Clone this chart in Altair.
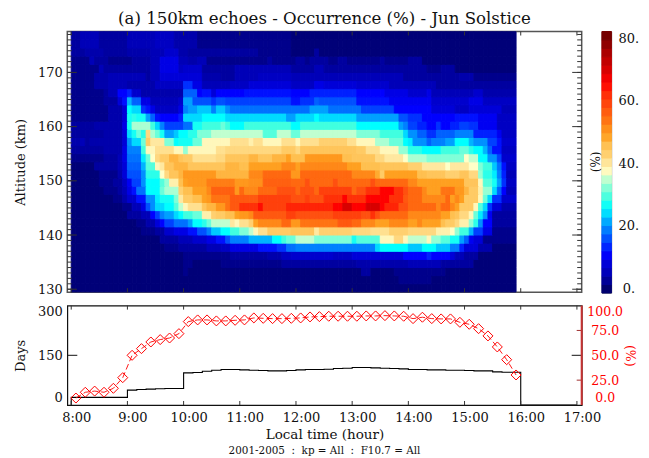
import altair as alt
import pandas as pd

FONT = "DejaVu Serif"

# Occurrence map: each row is a list of (end column, occurrence %) runs; 5-minute columns, 1.5 km rows.
r00 = [(95,1)]
r01 = [(70,1),(77,2),(95,1)]
r02 = [(24,1),(25,2),(62,1),(64,3),(69,1),(80,2),(95,1)]
r03 = [(24,1),(26,2),(32,1),(45,2),(47,3),(61,3),(72,4),(79,5),(86,3),(95,1)]
r04 = [(24,1),(34,2),(42,3),(45,4),(47,6),(56,7),(60,6),(71,8),(76,11),(77,13),(81,11),(82,8),(84,5),(87,3),(95,1)]
r05 = [(20,1),(23,2),(29,3),(32,5),(34,6),(40,9),(44,12),(46,14),(48,18),(65,19),(66,24),(72,26),(75,23),(78,26),(81,23),(83,19),(84,13),(87,8),(90,4),(95,1)]
r06 = [(19,1),(23,3),(26,5),(29,7),(31,9),(33,12),(34,16),(38,19),(43,22),(45,26),(46,29),(48,31),(52,35),(60,32),(61,27),(66,30),(69,38),(71,42),(72,38),(76,35),(77,38),(79,33),(81,30),(83,27),(84,21),(85,17),(86,10),(88,8),(95,2)]
r07 = [(15,1),(18,2),(20,3),(22,7),(25,9),(27,12),(29,16),(30,19),(32,23),(34,26),(36,29),(38,32),(39,35),(40,38),(42,41),(47,44),(52,45),(53,40),(60,43),(64,42),(68,41),(72,43),(78,42),(81,39),(82,37),(83,33),(85,29),(86,22),(88,15),(90,9),(95,2)]
r08 = [(14,1),(16,2),(18,4),(19,8),(20,11),(22,15),(25,18),(26,21),(28,26),(29,28),(30,31),(34,35),(35,40),(36,38),(38,41),(39,43),(40,49),(45,52),(47,55),(49,50),(57,54),(60,57),(62,55),(65,52),(68,49),(72,52),(74,49),(75,52),(79,49),(80,46),(82,44),(83,42),(85,39),(86,33),(87,28),(88,20),(90,11),(95,3)]
r09 = [(12,1),(15,3),(17,5),(18,11),(19,15),(20,19),(22,21),(23,24),(24,26),(26,29),(28,31),(30,39),(31,43),(33,44),(35,46),(36,49),(38,50),(39,52),(46,57),(48,60),(56,58),(62,60),(64,58),(65,62),(66,58),(72,55),(79,52),(81,49),(82,46),(83,45),(85,42),(86,38),(87,31),(88,25),(89,20),(90,10),(95,3)]
r10 = [(11,1),(13,2),(15,5),(16,9),(17,16),(18,20),(20,24),(22,26),(23,30),(24,35),(25,38),(28,41),(29,45),(31,47),(33,50),(34,54),(36,57),(40,62),(41,65),(46,60),(56,63),(58,66),(60,70),(63,66),(66,70),(67,66),(70,63),(72,58),(78,55),(79,52),(81,55),(82,52),(83,49),(86,44),(87,38),(88,30),(89,24),(90,14),(92,8),(95,4)]
r11 = [(9,1),(11,2),(12,4),(14,7),(16,12),(18,20),(19,25),(22,27),(23,32),(24,40),(26,44),(28,46),(29,49),(30,50),(34,54),(40,57),(47,60),(50,58),(51,60),(54,58),(58,62),(59,66),(63,62),(68,66),(71,62),(72,57),(75,55),(80,52),(81,55),(82,49),(83,52),(84,49),(87,44),(88,38),(89,31),(90,24),(92,14),(95,7)]
r12 = [(7,1),(10,2),(11,3),(12,5),(13,9),(14,12),(16,18),(19,26),(20,31),(23,34),(24,43),(26,46),(29,49),(30,52),(35,56),(36,50),(37,55),(40,52),(44,55),(48,58),(49,55),(52,58),(53,55),(60,60),(61,55),(63,58),(66,62),(69,66),(71,62),(72,58),(75,55),(76,52),(79,49),(82,54),(84,50),(85,47),(87,44),(88,39),(90,33),(91,24),(92,17),(93,11),(95,5)]
r13 = [(6,1),(9,2),(11,3),(12,6),(13,10),(15,15),(16,20),(19,26),(20,30),(21,33),(23,39),(24,46),(25,49),(29,50),(35,53),(38,50),(41,51),(47,56),(50,55),(51,58),(56,55),(57,58),(64,55),(65,58),(72,55),(74,52),(84,49),(87,45),(88,38),(90,30),(91,27),(92,21),(93,14),(95,6)]
r14 = [(6,1),(10,2),(11,4),(12,8),(15,16),(16,20),(19,28),(20,37),(21,42),(23,45),(24,47),(31,50),(38,47),(41,52),(47,55),(49,50),(60,55),(65,52),(66,48),(67,44),(74,49),(76,46),(80,45),(83,43),(85,45),(87,42),(88,33),(90,28),(91,25),(92,19),(93,13),(95,5)]
r15 = [(5,1),(10,3),(11,5),(12,8),(15,17),(16,22),(18,30),(19,38),(20,40),(22,45),(25,47),(33,45),(36,47),(38,46),(45,49),(48,52),(49,49),(59,52),(62,49),(66,46),(72,45),(75,43),(80,40),(81,37),(85,40),(87,37),(88,32),(90,29),(91,23),(92,18),(93,12),(95,6)]
r16 = [(7,2),(10,3),(11,5),(12,9),(15,18),(16,25),(17,31),(18,37),(19,42),(21,44),(23,47),(24,45),(26,44),(31,41),(33,42),(38,45),(40,47),(43,45),(46,47),(47,49),(50,46),(58,50),(60,46),(65,45),(67,42),(71,40),(72,37),(76,34),(84,32),(85,37),(87,35),(89,26),(91,20),(92,15),(95,7)]
r17 = [(7,3),(11,4),(12,9),(15,19),(16,29),(18,38),(22,41),(24,38),(25,33),(31,38),(33,41),(45,42),(48,44),(49,42),(61,45),(63,44),(66,41),(70,38),(72,33),(75,28),(79,26),(83,29),(85,31),(86,28),(88,26),(89,22),(90,17),(92,12),(95,6)]
r18 = [(2,4),(3,5),(4,3),(11,4),(12,8),(13,20),(15,24),(16,31),(17,44),(20,40),(22,32),(23,26),(26,27),(28,31),(34,38),(38,41),(39,39),(41,41),(45,38),(48,41),(49,38),(53,41),(59,43),(61,41),(65,38),(68,34),(71,31),(72,26),(73,25),(76,20),(77,17),(80,19),(82,21),(85,26),(86,22),(89,20),(91,15),(92,12),(95,7)]
r19 = [(7,3),(11,4),(12,8),(13,24),(14,27),(15,31),(16,28),(17,42),(18,34),(19,31),(20,27),(22,21),(23,23),(25,26),(27,28),(30,32),(41,35),(44,30),(47,35),(49,31),(61,35),(66,32),(71,29),(72,24),(74,20),(76,17),(78,14),(82,17),(86,19),(91,13),(92,10),(95,6)]
r20 = [(5,3),(11,4),(12,9),(13,27),(17,34),(18,29),(19,24),(20,19),(24,15),(26,18),(28,27),(32,29),(33,31),(34,29),(37,26),(47,29),(49,26),(61,29),(70,26),(71,21),(72,19),(74,15),(76,13),(78,11),(79,14),(81,11),(83,13),(85,15),(87,14),(91,10),(95,6)]
r21 = [(8,2),(11,4),(12,8),(13,27),(14,28),(16,27),(17,21),(18,17),(19,12),(23,11),(24,13),(28,24),(33,26),(46,24),(48,21),(52,24),(53,26),(61,24),(70,21),(72,16),(75,14),(82,11),(87,12),(91,10),(95,6)]
r22 = [(8,2),(11,4),(12,8),(13,26),(15,24),(16,14),(17,12),(18,9),(23,6),(24,9),(25,19),(27,21),(30,23),(31,19),(33,23),(34,20),(51,18),(55,21),(62,18),(69,15),(77,11),(82,8),(85,6),(92,8),(95,5)]
r23 = [(7,2),(10,3),(11,8),(12,12),(13,22),(15,17),(17,9),(23,5),(24,7),(26,21),(30,16),(31,14),(33,16),(47,15),(49,12),(52,14),(53,17),(61,16),(68,12),(77,10),(85,7),(88,9),(95,6)]
r24 = [(7,2),(8,3),(10,5),(12,11),(13,13),(15,7),(24,4),(27,17),(28,11),(30,12),(31,8),(37,11),(47,12),(51,11),(61,13),(67,11),(72,9),(76,7),(77,9),(86,5),(88,7),(95,4)]
r25 = [(5,2),(8,4),(12,5),(18,4),(24,6),(26,14),(28,9),(34,5),(38,6),(47,8),(52,6),(54,9),(61,8),(68,7),(78,5),(95,3)]
r26 = [(5,2),(8,4),(16,5),(17,3),(19,5),(28,8),(32,4),(35,3),(40,5),(47,6),(71,5),(83,3),(86,4),(95,2)]
r27 = [(6,2),(7,5),(17,3),(19,5),(23,9),(24,6),(28,7),(35,3),(47,5),(52,3),(54,5),(76,3),(79,2),(82,3),(95,1)]
r28 = [(4,2),(5,5),(8,3),(13,2),(17,3),(19,5),(23,9),(25,5),(27,4),(29,5),(42,2),(43,3),(48,2),(50,3),(51,2),(55,3),(57,2),(59,3),(66,2),(67,3),(72,2),(75,3),(95,1)]
r29 = [(3,3),(7,4),(12,3),(17,4),(20,5),(23,7),(25,4),(40,3),(47,2),(52,1),(53,3),(95,1)]
r30 = [(2,3),(6,5),(12,3),(18,5),(22,6),(27,4),(47,2),(95,1)]
r31 = [(2,3),(6,5),(12,3),(18,5),(22,6),(27,4),(47,2),(95,1)]
map_rows = [r00,r01,r02,r03,r04,r05,r06,r07,r08,r09,r10,r11,r12,r13,r14,r15,
            r16,r17,r18,r19,r20,r21,r22,r23,r24,r25,r26,r27,r28,r29,r30,r31]

# Colour table
stop_values = [0,1,3,5,8,11,15,17,19,21,23,26,29,32,35,37,40,43,46,49,52,55,58,62,66,70,75,83]
stop_colors = ["#000070","#000078","#0000a0","#0000b8","#0000d8","#0000ff","#0040ff","#0060ff","#0080ff","#00a0ff","#00c8ff","#00ffff",
               "#40ffe0","#80ffd8","#c0ffd0","#ffffc8","#ffe8a0","#ffd070","#ffc050","#ffa020","#ff8818","#ff6810","#ff5010","#ff3008","#ff0000","#d80000","#b00000","#600000"]

# Lower panel
hour_ticks = [8,9,10,11,12,13,14,15,16,17]
days_hours = [8,8,8.1667,8.3333,8.5,8.6667,8.8333,9,9.1667,9.3333,9.5,9.6667,9.8333,10,10.1667,10.3333,10.5,10.6667,10.8333,11,11.1667,11.3333,11.5,11.6667,11.8333,12,12.1667,12.3333,12.5,12.6667,12.8333,13,13.1667,13.3333,13.5,13.6667,13.8333,14,14.1667,14.3333,14.5,14.6667,14.8333,15,15.1667,15.3333,15.5,15.6667,15.8333,16,16,17]
days_values = [0,23,23,23,23,23,23,45,47,48,49,50,50,97,98,102,105,107,107,106,105,104,103,103,104,106,107,107,108,110,111,113,113,112,111,110,109,107,107,106,106,105,105,104,103,103,100,99,99,99,0,0]
pct_values = [7,12.8,14,12.8,16.8,27.5,50,56.7,63.4,65.8,67.4,71.8,83.9,85.6,85.6,84.6,84.6,85.2,85.6,87.6,87.2,86.9,86.9,87.2,87.6,88.6,88.9,
              89.3,89.3,89.3,89.3,89.6,89.6,89.9,89.6,89.3,86.9,88.3,86.9,86.6,86.6,83.2,81.2,76.8,69.5,58.4,45.6,30.2]
pct_minutes = [5+10*i for i in range(len(pct_values))]

records = []
for r, runs in enumerate(map_rows):
    start = 0
    for end, v in runs:
        for c in range(start, end):
            records.append({"t0": 8+c/12, "t1": 8+(c+1)/12, "a0": 129.5+1.5*r, "a1": 131+1.5*r, "v": v})
        start = end
map_df = pd.DataFrame(records)

W, H = 514.4, 260.7
XDOM = [7.93, 17.085]
YDOM = [129.45, 177.55]
xs = alt.Scale(domain=XDOM, nice=False, zero=False)
ys = alt.Scale(domain=YDOM, nice=False, zero=False)
cs = alt.Scale(domain=stop_values, range=stop_colors, interpolate="rgb")
FRAME = "#555555"

Y_AXIS = alt.Axis(values=[130,140,150,160,170], title="Altitude (km)", ticks=False, domain=False, grid=False,
        labelFont=FONT, labelFontSize=13, labelColor="#111", labelPadding=5, titleFont=FONT, titleFontSize=13, titleFontWeight="normal", titleColor="#111", titlePadding=10)
hm = alt.Chart(map_df).mark_rect(strokeWidth=1).encode(
    x=alt.X("t0:Q", scale=xs, axis=None), x2="t1:Q",
    y=alt.Y("a0:Q", scale=ys, axis=Y_AXIS),
    y2="a1:Q",
    color=alt.Color("v:Q", scale=cs, legend=None),
    stroke=alt.Stroke("v:Q", scale=cs, legend=None),
)

ydf = pd.DataFrame({"a": list(range(130, 178))})
ymaj = pd.DataFrame({"a": [130,140,150,160,170]})
hdf = pd.DataFrame({"h": hour_ticks})
def yrule(df, x0, x1):
    return alt.Chart(df).mark_rule(color="#333", strokeWidth=1).encode(
        y=alt.Y("a:Q", scale=ys, axis=Y_AXIS), x=alt.value(x0), x2=alt.value(x1))
def xrule(df, y0, y1, axis=None):
    return alt.Chart(df).mark_rule(color="#333", strokeWidth=1).encode(
        x=alt.X("h:Q", scale=xs, axis=axis), y=alt.value(y0), y2=alt.value(y1))

bar_label = alt.Chart(pd.DataFrame({"t": ["(%)"]})).mark_text(font=FONT, fontSize=12, color="#111", angle=270, align="center", baseline="middle").encode(
    text="t:N", x=alt.value(W+14), y=alt.value(H/2))

top = alt.layer(hm, yrule(ydf,0,4.5), yrule(ydf,W-4.5,W), yrule(ymaj,0,9.5), yrule(ymaj,W-9.5,W),
                xrule(hdf,0,4), xrule(hdf,H-4,H), bar_label).properties(
    width=W, height=H,
    view=alt.ViewConfig(stroke=FRAME, strokeWidth=1.5),
    title=alt.TitleParams("(a) 150km echoes - Occurrence (%) - Jun Solstice", font=FONT, fontSize=16.6, fontWeight="normal", color="#111", anchor="middle", offset=3.7),
)

# Colour bar
band_step = 83.7/31
bar_df = pd.DataFrame({"b0": [-1.5+band_step*i for i in range(31)], "b1": [-1.5+band_step*(i+1) for i in range(31)]})
bar_df["v"] = bar_df["b0"] + band_step/2
bar_y = alt.Scale(domain=[-1.5, 82.2], nice=False, zero=False)
cbar = alt.Chart(bar_df).mark_rect(strokeWidth=1).encode(
    x=alt.value(0), x2=alt.value(9.5),
    y=alt.Y("b0:Q", scale=bar_y, axis=alt.Axis(values=[0,20,40,60,80], orient="right", labelExpr="datum.value + '.'", ticks=False, domain=False, grid=False,
        title=None, labelFont=FONT, labelFontSize=13, labelColor="#111", labelAlign="center", labelPadding=17)),
    y2="b1:Q",
    color=alt.Color("v:Q", scale=cs, legend=None),
    stroke=alt.Stroke("v:Q", scale=cs, legend=None),
).properties(width=9.5, height=261.5, view=alt.ViewConfig(stroke="#666", strokeWidth=0.8))

# Lower panel
H2 = 99.4
ld = alt.Scale(domain=[0,300], nice=False, zero=False)
rd = alt.Scale(domain=[0,100], nice=False, zero=False)
days_df = pd.DataFrame({"h": days_hours, "d": days_values, "o": list(range(len(days_hours)))})
pct_df = pd.DataFrame({"h": [8+m/60 for m in pct_minutes], "p": pct_values})
X_AXIS = alt.Axis(values=hour_ticks, labelExpr="datum.value + ':00'", ticks=False, domain=False, grid=False, tickSize=0,
        labelFont=FONT, labelFontSize=13, labelColor="#111", labelPadding=7, labelOffset=5, labelFlush=False,
        title="Local time (hour)", titleFont=FONT, titleFontSize=13.5, titleFontWeight="normal", titleColor="#111", titlePadding=3)
days_line = alt.Chart(days_df).mark_line(interpolate="step-after", color="black", strokeWidth=1.1, clip=True).encode(
    x=alt.X("h:Q", scale=xs, axis=X_AXIS),
    y=alt.Y("d:Q", scale=ld, axis=alt.Axis(values=[0,150,300], orient="left", title="Days", ticks=False, tickSize=0, domain=False, grid=False, labelFlush=True,
        labelFont=FONT, labelFontSize=13, labelColor="#111", labelPadding=5, titleFont=FONT, titleFontSize=13, titleFontWeight="normal", titleColor="#111", titlePadding=10)),
    order="o:Q",
)
pct_line = alt.Chart(pct_df).mark_line(color="#ff0000", strokeWidth=0.9, strokeDash=[6,3]).encode(
    x=alt.X("h:Q", scale=xs, axis=X_AXIS),
    y=alt.Y("p:Q", scale=rd, axis=alt.Axis(values=[0,25,50,75,100], orient="right", format=".1f", title="(%)", ticks=False, tickSize=0, domain=False, grid=False, labelFlush=True,
        labelFont=FONT, labelFontSize=12.5, labelColor="#ff0000", labelAlign="center", labelPadding=23,
        titleFont=FONT, titleFontSize=12.5, titleFontWeight="normal", titleColor="#ff0000", titlePadding=0)),
)
pct_pts = alt.Chart(pct_df).mark_point(shape="diamond", filled=False, color="#ff0000", size=100, strokeWidth=1, opacity=1).encode(
    x=alt.X("h:Q", scale=xs, axis=X_AXIS), y=alt.Y("p:Q", scale=rd, axis=None))
red_axis = alt.Chart(pd.DataFrame({"h": [17.085]})).mark_rule(color="#c83232", strokeWidth=2).encode(
    x=alt.value(W), y=alt.value(0), y2=alt.value(H2))
left_tick = alt.Chart(pd.DataFrame({"d": [150]})).mark_rule(color="#111").encode(
    y=alt.Y("d:Q", scale=ld, axis=None), x=alt.value(0), x2=alt.value(10))
r_tick = alt.Chart(pd.DataFrame({"d": [25,75]})).mark_rule(color="#a03030").encode(
    y=alt.Y("d:Q", scale=rd, axis=None), x=alt.value(W-5), x2=alt.value(W))
m_tick = alt.Chart(pd.DataFrame({"d": [50]})).mark_rule(color="#111").encode(
    y=alt.Y("d:Q", scale=rd, axis=None), x=alt.value(W-10), x2=alt.value(W))
foot = alt.Chart(pd.DataFrame({"t": ["2001-2005\u00a0\u00a0:\u00a0\u00a0kp = All\u00a0\u00a0:\u00a0\u00a0F10.7 = All"]})).mark_text(font=FONT, fontSize=10.4, color="#111", align="center", baseline="middle").encode(
    text="t:N", x=alt.value(W/2), y=alt.value(H2+46))

bottom = alt.layer(days_line, pct_line, pct_pts, xrule(hdf,0,4,X_AXIS), xrule(hdf,H2-4,H2,X_AXIS), left_tick, r_tick, m_tick, red_axis, foot).resolve_scale(y="independent").properties(
    width=W, height=H2, view=alt.ViewConfig(stroke="#111", strokeWidth=1.2))

chart = alt.concat(top, cbar, bottom, columns=2, spacing={"row": 12.1, "column": 19.6}, bounds="flush").properties(
    padding={"left": 5.3, "top": 1.5, "right": 0, "bottom": 0}
).configure(background="white")
chart.save("out.html", embed_options={"renderer": "svg", "actions": False})
